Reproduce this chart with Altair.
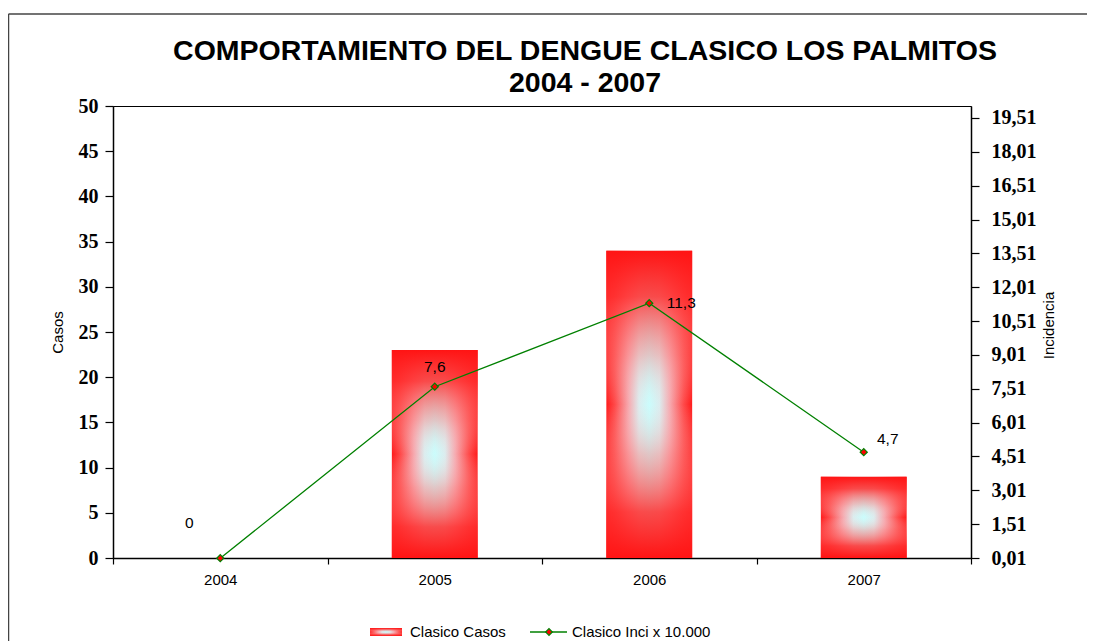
import altair as alt
import pandas as pd

# ---- data ----
years = ["2004", "2005", "2006", "2007"]
casos = [0, 23, 34, 9]
incidencia = [0, 7.6, 11.3, 4.7]
casos_ticks = [0, 5, 10, 15, 20, 25, 30, 35, 40, 45, 50]
inci_ticks = [0.01, 1.51, 3.01, 4.51, 6.01, 7.51, 9.01, 10.51, 12.01, 13.51,
              15.01, 16.51, 18.01, 19.51]
series_names = ["Clasico Casos", "Clasico Inci x 10.000"]
title_lines = ["COMPORTAMIENTO DEL DENGUE CLASICO LOS PALMITOS", "2004 - 2007"]

W, H = 858, 452
SANS = "Liberation Sans"
SERIF = "Liberation Serif"
GREEN = "#008000"

df = pd.DataFrame({"year": years, "casos": casos, "inci": incidencia})

grad_h = alt.Gradient(
    gradient="linear", x1=0, x2=1, y1=0, y2=0,
    stops=[
        alt.GradientStop(offset=0, color="#ff1a1a"),
        alt.GradientStop(offset=0.1, color="#ff4a4a"),
        alt.GradientStop(offset=0.26, color="#f6aab0"),
        alt.GradientStop(offset=0.38, color="#dcecee"),
        alt.GradientStop(offset=0.5, color="#cbfcfc"),
        alt.GradientStop(offset=0.62, color="#dcecee"),
        alt.GradientStop(offset=0.74, color="#f6aab0"),
        alt.GradientStop(offset=0.9, color="#ff4a4a"),
        alt.GradientStop(offset=1, color="#ff1a1a"),
    ],
)
grad_v = alt.Gradient(
    gradient="linear", x1=0, x2=0, y1=0, y2=1,
    stops=[
        alt.GradientStop(offset=0, color="rgba(255,20,20,1)"),
        alt.GradientStop(offset=0.15, color="rgba(255,45,45,0.85)"),
        alt.GradientStop(offset=0.34, color="rgba(252,120,120,0.4)"),
        alt.GradientStop(offset=0.5, color="rgba(240,220,220,0)"),
        alt.GradientStop(offset=0.66, color="rgba(252,120,120,0.4)"),
        alt.GradientStop(offset=0.85, color="rgba(255,45,45,0.85)"),
        alt.GradientStop(offset=1, color="rgba(255,20,20,1)"),
    ],
)

# shared axis definitions (same object in every layer so they merge)
x_axis = alt.Axis(title=None, tickBand="extent", labelAngle=0, labelFont=SANS,
                  labelFontSize=15, labelColor="black", domainColor="black",
                  domainWidth=1.5, tickColor="black", tickSize=6, tickWidth=1.2,
                  labelPadding=8)
y_left_axis = alt.Axis(values=casos_ticks, title="Casos", titleFont=SANS,
                       titleFontSize=15, titleFontWeight="normal",
                       titleColor="black", titleAngle=270,
                       titleAlign="center", titleBaseline="middle",
                       titleX=-56, titleY=H / 2,
                       labelFont=SERIF, labelFontWeight="bold",
                       labelFontSize=20, labelColor="black",
                       domainColor="black", domainWidth=1.5,
                       tickColor="black", tickSize=8, tickWidth=1.2,
                       labelPadding=7, grid=False)
y_right_axis = alt.Axis(orient="right", values=inci_ticks,
                        labelExpr="replace(format(datum.value, '.2f'), '.', ',')",
                        title="Incidencia", titleFont=SANS, titleFontSize=15,
                        titleFontWeight="normal", titleColor="black",
                        titleAngle=270, titleAlign="center",
                        titleBaseline="middle", titleX=77, titleY=219,
                        labelFont=SERIF, labelFontWeight="bold",
                        labelFontSize=20, labelColor="black",
                        domainColor="black", domainWidth=1.5,
                        tickColor="black", tickSize=8, tickWidth=1.2,
                        labelPadding=12, grid=False)

x_scale = alt.Scale(paddingInner=0, paddingOuter=0)
y_casos_scale = alt.Scale(domain=[0, 50], nice=False, zero=True)
y_inci_scale = alt.Scale(domain=[0.01, 20.04], nice=False, zero=False)

x_enc = alt.X("year:N", sort=years, scale=x_scale, axis=x_axis)
y_casos = alt.Y("casos:Q", scale=y_casos_scale, axis=y_left_axis)
y_inci = alt.Y("inci:Q", scale=y_inci_scale, axis=y_right_axis)

base = alt.Chart(df)

bars_h = base.mark_bar(width=alt.RelativeBandSize(0.4), fill=grad_h).encode(
    x=x_enc, y=y_casos)
bars_v = base.mark_bar(width=alt.RelativeBandSize(0.4), fill=grad_v).encode(
    x=x_enc, y=y_casos)

line = base.mark_line(color=GREEN, strokeWidth=1.3).encode(x=x_enc, y=y_inci)
points = base.mark_point(shape="diamond", filled=True, fill="#ff0000",
                         stroke=GREEN, strokeWidth=1.2, size=50,
                         opacity=1).encode(x=x_enc, y=y_inci)

label_offsets = {"2004": (-31, -35), "2005": (0, -20), "2006": (32, 0),
                 "2007": (24, -13)}
label_layers = []
for yr in years:
    dx, dy = label_offsets[yr]
    label_layers.append(
        base.transform_filter(alt.datum.year == yr)
        .transform_calculate(
            lbl="replace(format(datum.inci, '.1~f'), '.', ',')")
        .mark_text(font=SANS, fontSize=15.5, color="black", dx=dx, dy=dy,
                   align="center", baseline="middle")
        .encode(x=x_enc, y=y_inci, text="lbl:N")
    )

# ---- decorations: frame, title, legend ----
one = alt.Chart(pd.DataFrame({"k": [0]}))

frame_top = one.mark_rule(color="#444444", strokeWidth=1.5).encode(
    x=alt.value(-104.5), x2=alt.value(W + 300), y=alt.value(-92))
frame_left = one.mark_rule(color="#444444", strokeWidth=1.5).encode(
    x=alt.value(-104.5), y=alt.value(-92), y2=alt.value(H + 300))

title1 = one.mark_text(font=SANS, fontSize=28.5, fontWeight="bold", color="black",
                       align="center", baseline="middle").encode(
    x=alt.value(472), y=alt.value(-55), text=alt.value(title_lines[0]))
title2 = one.mark_text(font=SANS, fontSize=28.5, fontWeight="bold", color="black",
                       align="center", baseline="middle").encode(
    x=alt.value(472), y=alt.value(-23), text=alt.value(title_lines[1]))

LY = 526
leg_sw_h = one.mark_rect(fill=grad_h).encode(
    x=alt.value(257), x2=alt.value(289), y=alt.value(LY - 4), y2=alt.value(LY + 4))
leg_sw_v = one.mark_rect(fill=grad_v).encode(
    x=alt.value(257), x2=alt.value(289), y=alt.value(LY - 4), y2=alt.value(LY + 4))
leg_t1 = one.mark_text(font=SANS, fontSize=15, color="black", align="left",
                       baseline="middle").encode(
    x=alt.value(297), y=alt.value(LY), text=alt.value(series_names[0]))
leg_line = one.mark_rule(color=GREEN, strokeWidth=1.3).encode(
    x=alt.value(417), x2=alt.value(454), y=alt.value(LY))
leg_pt = one.mark_point(shape="diamond", filled=True, fill="#ff0000",
                        stroke=GREEN, strokeWidth=1.2, size=45,
                        opacity=1).encode(x=alt.value(436), y=alt.value(LY))
leg_t2 = one.mark_text(font=SANS, fontSize=15, color="black", align="left",
                       baseline="middle").encode(
    x=alt.value(459), y=alt.value(LY), text=alt.value(series_names[1]))

left_part = alt.layer(bars_h, bars_v, frame_top, frame_left)
right_part = alt.layer(line, points, *label_layers, title1, title2,
                       leg_sw_h, leg_sw_v, leg_t1, leg_line, leg_pt, leg_t2)

chart = alt.layer(left_part, right_part).resolve_scale(
    y="independent"
).properties(
    width=W, height=H,
    autosize=alt.AutoSizeParams(type="none"),
    padding={"left": 105, "top": 98, "right": 116, "bottom": 83},
    background="white",
).configure_view(stroke="black", strokeWidth=1)

chart.save("out.html", embed_options={"renderer": "svg", "actions": False})
